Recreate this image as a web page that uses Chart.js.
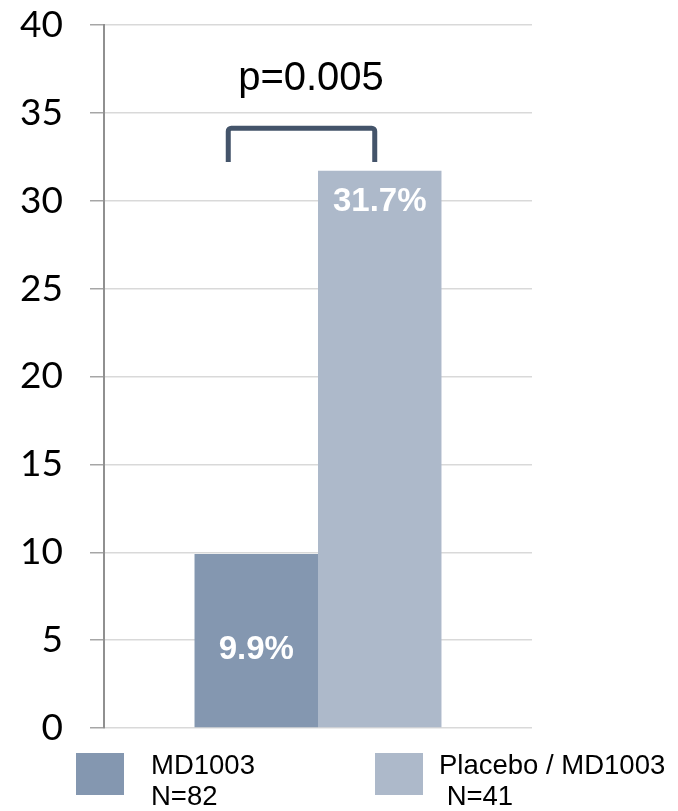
<!DOCTYPE html>
<html>
<head>
<meta charset="utf-8">
<script src="https://cdn.jsdelivr.net/npm/chart.js@4/dist/chart.umd.min.js"></script>
<style>
  html, body { margin: 0; padding: 0; background: #ffffff; }
  #wrap { width: 678px; height: 811px; position: relative; }
</style>
</head>
<body>
<div id="wrap"><canvas id="c" width="678" height="811"></canvas></div>
<script>
// ---- data ----
const categories = [''];
const seriesNames = ['MD1003', 'Placebo / MD1003'];
const seriesSubtitles = ['N=82', ' N=41'];
const md1003Values = [9.9];
const placeboValues = [31.7];
const valueLabels = ['9.9%', '31.7%'];
const pValueText = 'p=0.005';
const yTicks = [0, 5, 10, 15, 20, 25, 30, 35, 40];

const colors = ['#8497b0', '#adb9ca'];

const annotatePlugin = {
  id: 'annotate',
  afterDatasetsDraw(chart) {
    const ctx = chart.ctx;
    const y = chart.scales.y;
    const b0 = chart.getDatasetMeta(0).data[0];
    const b1 = chart.getDatasetMeta(1).data[0];
    ctx.save();
    // value labels inside bars
    ctx.fillStyle = '#ffffff';
    ctx.font = 'bold 33px "Liberation Sans", Arial, sans-serif';
    ctx.textAlign = 'center';
    ctx.textBaseline = 'middle';
    ctx.fillText(valueLabels[0], b0.x, b0.base - 77);
    ctx.fillText(valueLabels[1], b1.x, b1.y + 31);

    // bracket
    const left = b0.x - 28;
    const right = b1.x - 5;
    const top = y.getPixelForValue(34.13);
    const bottom = y.getPixelForValue(32.2);
    ctx.strokeStyle = '#44546a';
    ctx.lineWidth = 5;
    ctx.lineJoin = 'round';
    ctx.lineCap = 'butt';
    ctx.beginPath();
    ctx.moveTo(left, bottom);
    ctx.lineTo(left, top + 3);
    ctx.arcTo(left, top, left + 3, top, 3);
    ctx.lineTo(right - 3, top);
    ctx.arcTo(right, top, right, top + 3, 3);
    ctx.lineTo(right, bottom);
    ctx.stroke();

    // p value
    ctx.fillStyle = '#000000';
    ctx.font = '40px "Liberation Sans", Arial, sans-serif';
    ctx.textAlign = 'center';
    ctx.textBaseline = 'alphabetic';
    ctx.fillText(pValueText, (b0.x + b1.x) / 2 - 7, y.getPixelForValue(36.3));

    // legend
    const legendItems = [
      { box: 76, text: 151 },
      { box: 375, text: 439 }
    ];
    ctx.font = '27.5px "Liberation Sans", Arial, sans-serif';
    ctx.textAlign = 'left';
    legendItems.forEach((it, i) => {
      ctx.fillStyle = colors[i];
      ctx.fillRect(it.box, 753, 48, 42);
      ctx.fillStyle = '#000000';
      ctx.fillText(seriesNames[i], it.text, 774);
      ctx.fillText(seriesSubtitles[i], it.text, 805);
    });
    ctx.restore();
  }
};

new Chart(document.getElementById('c'), {
  type: 'bar',
  data: {
    labels: categories,
    datasets: [
      { label: seriesNames[0], data: md1003Values, backgroundColor: colors[0], borderWidth: 0 },
      { label: seriesNames[1], data: placeboValues, backgroundColor: colors[1], borderWidth: 0 }
    ]
  },
  options: {
    responsive: false,
    animation: false,
    events: [],
    layout: { padding: { left: 0, right: 146, top: 25, bottom: 83 } },
    datasets: { bar: { categoryPercentage: 0.577, barPercentage: 1.0 } },
    plugins: { legend: { display: false }, tooltip: { enabled: false } },
    scales: {
      x: { display: false },
      y: {
        min: 0, max: 40,
        afterFit(scale) { scale.width = 104; scale.paddingTop = 0; scale.paddingBottom = 0; },
        afterBuildTicks(scale) { scale.ticks = yTicks.map(v => ({ value: v })); },
        ticks: {
          color: '#000000',
          padding: 27,
          font: { family: 'Lato, "Open Sans", sans-serif', size: 37, lineHeight: 1.2 }
        },
        grid: { color: '#d9d9d9', lineWidth: 1.5, tickLength: 14, drawTicks: true, tickColor: '#a6a6a6' },
        border: { display: true, color: '#909090', width: 2 }
      }
    }
  },
  plugins: [annotatePlugin]
});
</script>
</body>
</html>
